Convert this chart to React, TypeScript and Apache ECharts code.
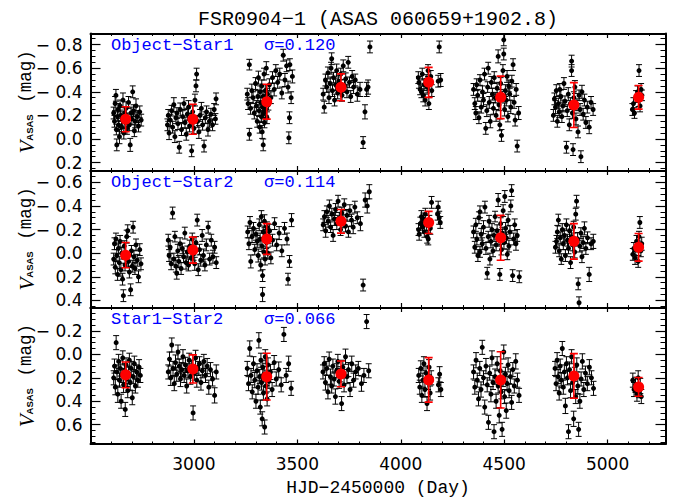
import React, { useEffect, useRef } from 'react';
import * as echarts from 'echarts';

const chartTitle = 'FSR0904−1 (ASAS 060659+1902.8)';
const xTitle = 'HJD−2450000 (Day)';
const panelNames = ['Object−Star1', 'Object−Star2', 'Star1−Star2'];
const panelSigmas = ['σ=0.120', 'σ=0.114', 'σ=0.066'];

const xMajor = [3000, 3500, 4000, 4500, 5000];
const xMinor = [2600, 2700, 2800, 2900, 3100, 3200, 3300, 3400, 3600, 3700, 3800, 3900, 4100, 4200, 4300, 4400, 4600, 4700, 4800, 4900, 5100, 5200];

const yRanges = [[-0.894, 0.267], [-0.70, 0.46], [-0.40, 0.765]];
const yMajor = [
  [-0.8, -0.6, -0.4, -0.2, 0, 0.2],
  [-0.6, -0.4, -0.2, 0, 0.2, 0.4],
  [-0.2, 0, 0.2, 0.4, 0.6],
];
const yMinor = [
  [-0.85, -0.75, -0.7, -0.65, -0.55, -0.5, -0.45, -0.35, -0.3, -0.25, -0.15, -0.1, -0.05, 0.05, 0.1, 0.15, 0.25],
  [-0.65, -0.55, -0.5, -0.45, -0.35, -0.3, -0.25, -0.15, -0.1, -0.05, 0.05, 0.1, 0.15, 0.25, 0.3, 0.35, 0.45],
  [-0.35, -0.3, -0.25, -0.15, -0.1, -0.05, 0.05, 0.1, 0.15, 0.25, 0.3, 0.35, 0.45, 0.5, 0.55, 0.65, 0.7, 0.75],
];

// [HJD-2450000, mag, error]
const p1Points = [
  [2612,-0.22,.05],[2616,-0.15,.05],[2619,-0.30,.06],[2623,-0.37,.05],[2625,-0.08,.045],[2627,0.05,.05],[2630,-0.19,.04],[2633,-0.25,.05],[2636,-0.12,.055],[2640,-0.02,.06],[2643,-0.28,.05],[2646,-0.20,.045],[2650,-0.10,.05],[2654,-0.16,.05],[2657,-0.33,.06],[2661,-0.05,.05],[2665,-0.22,.045],[2668,-0.14,.05],[2672,-0.26,.055],[2676,-0.09,.05],[2680,-0.18,.04],[2684,-0.31,.05],[2688,-0.12,.05],[2692,0.05,.055],[2696,-0.22,.05],[2700,-0.17,.045],[2704,-0.40,.05],[2708,-0.24,.05],[2712,-0.07,.05],[2716,-0.15,.055],[2720,-0.28,.06],[2726,-0.19,.05],[2732,-0.11,.05],[2738,-0.23,.05],[2745,-0.16,.05],
  [2872,-0.12,.05],[2876,-0.20,.05],[2880,-0.05,.055],[2886,-0.16,.05],[2892,-0.24,.045],[2897,-0.10,.05],[2903,-0.29,.06],[2908,-0.02,.05],[2913,-0.18,.05],[2918,-0.22,.045],[2923,-0.13,.05],[2929,0.07,.05],[2934,-0.25,.055],[2940,-0.08,.05],[2946,-0.19,.05],[2952,-0.30,.05],[2957,-0.14,.045],[2963,-0.04,.05],[2968,-0.21,.05],[2974,-0.27,.055],[2979,-0.11,.05],[2985,-0.17,.05],[2989,0.10,.05],[2994,-0.23,.05],[3000,-0.09,.045],[3005,-0.33,.05],[3010,-0.45,.05],[3013,-0.55,.05],[3018,-0.15,.05],[3024,-0.06,.055],[3030,-0.20,.05],[3036,-0.26,.05],[3042,-0.12,.045],[3049,0.06,.05],[3055,-0.18,.05],[3061,-0.23,.05],[3068,-0.08,.055],[3075,-0.15,.05],[3082,-0.21,.05],[3090,-0.12,.05],[3098,-0.25,.05],[3104,-0.17,.045],[3107,-0.34,.05],
  [3258,-0.38,.05],[3262,-0.30,.05],[3268,-0.63,.045],[3268,-0.04,.05],[3274,-0.26,.05],[3280,-0.41,.055],[3286,-0.35,.05],[3292,-0.22,.05],[3298,-0.47,.05],[3302,-0.28,.045],[3306,-0.15,.05],[3309,-0.36,.05],[3312,-0.52,.055],[3315,-0.24,.05],[3318,-0.10,.05],[3320,-0.40,.05],[3323,-0.31,.045],[3326,-0.19,.05],[3328,-0.45,.05],[3330,-0.06,.055],[3332,-0.27,.05],[3334,-0.36,.05],[3335,0.05,.05],[3337,-0.22,.05],[3339,-0.55,.05],[3341,-0.14,.045],[3343,-0.33,.05],[3345,-0.41,.05],[3347,-0.25,.05],[3350,-0.60,.055],[3353,-0.18,.05],[3356,-0.38,.05],[3360,-0.29,.045],[3365,-0.46,.05],[3372,-0.35,.05],[3380,-0.52,.05],[3388,-0.42,.055],[3396,-0.58,.05],[3405,-0.48,.05],[3415,-0.55,.05],[3425,-0.39,.05],[3432,-0.71,.05],[3440,-0.50,.055],[3448,-0.62,.05],[3455,-0.44,.05],[3459,-0.01,.05],[3462,-0.18,.05],[3464,-0.63,.05],[3470,-0.35,.05],[3476,-0.53,.055],
  [3625,-0.38,.05],[3630,-0.27,.05],[3636,-0.50,.05],[3642,-0.44,.045],[3648,-0.56,.05],[3653,-0.35,.05],[3659,-0.47,.055],[3663,-0.60,.05],[3666,-0.68,.05],[3670,-0.41,.05],[3675,-0.52,.045],[3680,-0.33,.05],[3685,-0.46,.05],[3690,-0.58,.055],[3695,-0.39,.05],[3700,-0.49,.05],[3705,-0.43,.045],[3710,-0.55,.05],[3716,-0.37,.05],[3722,-0.62,.05],[3728,-0.45,.055],[3734,-0.51,.05],[3740,-0.40,.05],[3746,-0.65,.05],[3752,-0.48,.045],[3758,-0.36,.05],[3765,-0.53,.05],[3772,-0.44,.055],[3780,-0.50,.05],[3790,-0.38,.06],[3803,-0.42,.06],[3818,0.03,.05],[3827,-0.23,.06],[3835,-0.42,.06],[3842,-0.44,.06],[3851,-0.78,.05],
  [4085,-0.52,.05],[4088,-0.48,.05],[4094,-0.42,.045],[4100,-0.40,.05],[4104,-0.55,.05],[4109,-0.37,.055],[4113,-0.46,.05],[4118,-0.33,.05],[4123,-0.50,.045],[4128,-0.44,.05],[4132,-0.58,.05],[4136,-0.30,.05],[4140,-0.47,.055],[4145,-0.53,.05],[4150,-0.41,.05],[4181,-0.49,.05],[4186,-0.78,.05],[4193,-0.50,.055],
  [4352,-0.42,.05],[4358,-0.30,.05],[4363,-0.22,.055],[4367,-0.46,.05],[4372,-0.37,.05],[4378,-0.18,.05],[4383,-0.50,.045],[4389,-0.27,.05],[4395,-0.40,.05],[4400,-0.33,.055],[4405,-0.55,.05],[4411,-0.09,.05],[4416,-0.24,.05],[4420,-0.44,.045],[4423,-0.60,.05],[4428,-0.31,.05],[4433,-0.15,.055],[4438,-0.48,.05],[4443,-0.38,.05],[4448,-0.26,.05],[4452,-0.52,.05],[4457,-0.35,.045],[4461,-0.20,.05],[4466,-0.43,.05],[4471,-0.70,.055],[4475,-0.29,.05],[4479,-0.12,.05],[4483,-0.47,.05],[4487,-0.03,.05],[4491,-0.36,.045],[4494,-0.58,.05],[4498,-0.84,.05],[4498,-0.72,.05],[4502,-0.25,.055],[4506,-0.41,.05],[4510,-0.33,.05],[4514,-0.53,.05],[4518,-0.19,.045],[4522,-0.45,.05],[4527,-0.38,.05],[4532,-0.27,.055],[4537,-0.49,.05],[4543,-0.63,.05],[4548,-0.31,.05],[4553,-0.16,.05],[4558,-0.42,.05],[4563,0.06,.05],[4570,-0.22,.055],
  [4738,-0.20,.05],[4743,-0.34,.05],[4748,-0.27,.055],[4752,-0.41,.05],[4757,-0.15,.05],[4762,-0.30,.045],[4766,-0.23,.05],[4769,-0.42,.05],[4774,-0.36,.055],[4779,-0.19,.05],[4784,-0.28,.05],[4789,-0.47,.05],[4794,-0.32,.045],[4801,0.07,.05],[4805,-0.24,.05],[4810,-0.38,.055],[4815,-0.12,.05],[4820,-0.30,.05],[4826,-0.66,.05],[4826,-0.58,.05],[4830,-0.22,.045],[4833,0.09,.05],[4837,-0.35,.05],[4842,-0.44,.055],[4847,-0.17,.05],[4852,-0.29,.05],[4857,-0.06,.05],[4862,-0.37,.045],[4867,-0.25,.05],[4871,0.15,.05],[4876,-0.40,.055],[4882,-0.21,.05],[4888,-0.33,.05],[4895,-0.14,.05],[4902,-0.27,.05],[4911,-0.10,.055],[4920,-0.31,.05],[4930,-0.25,.05],
  [5120,-0.25,.05],[5125,-0.30,.05],[5130,-0.22,.045],[5138,-0.36,.05],[5145,-0.40,.05],[5150,-0.33,.055],[5152,-0.58,.05],[5157,-0.28,.05],[5162,-0.42,.05],[5166,-0.37,.045],
];

const p2Points = [
  [2612,0.05,.05],[2616,-0.08,.05],[2620,0.12,.055],[2623,-0.12,.05],[2627,0.02,.05],[2631,0.18,.05],[2635,-0.04,.045],[2639,0.08,.05],[2643,-0.10,.05],[2647,0.14,.055],[2651,0.00,.05],[2655,0.22,.05],[2659,0.36,.05],[2663,-0.06,.045],[2667,0.10,.05],[2671,0.04,.05],[2675,-0.14,.055],[2680,-0.19,.05],[2684,0.07,.05],[2688,0.16,.05],[2694,0.31,.05],[2698,-0.02,.045],[2702,0.11,.05],[2706,-0.22,.05],[2710,0.03,.055],[2715,0.13,.05],[2720,-0.07,.05],[2726,0.06,.05],[2732,0.20,.05],[2738,-0.03,.05],[2744,0.09,.05],
  [2876,-0.11,.05],[2880,0.02,.05],[2885,-0.05,.055],[2890,0.09,.05],[2897,-0.34,.05],[2903,0.05,.05],[2908,-0.14,.045],[2913,0.11,.05],[2917,0.17,.05],[2922,-0.02,.055],[2927,0.07,.05],[2933,-0.08,.05],[2938,0.13,.05],[2944,-0.04,.045],[2950,0.03,.05],[2956,-0.17,.05],[2962,0.08,.055],[2968,-0.01,.05],[2974,0.10,.05],[2980,-0.06,.05],[2986,0.04,.045],[2992,-0.12,.05],[2998,0.01,.05],[3004,0.09,.055],[3010,-0.09,.05],[3016,-0.28,.05],[3021,0.14,.05],[3027,-0.03,.045],[3033,0.06,.05],[3040,-0.15,.05],[3046,0.02,.055],[3053,0.10,.05],[3060,-0.07,.05],[3069,-0.22,.05],[3076,0.05,.05],[3084,-0.11,.05],[3092,0.03,.055],[3100,-0.05,.05],[3108,0.08,.05],
  [3260,-0.18,.05],[3266,-0.08,.05],[3271,-0.26,.05],[3275,0.07,.055],[3281,-0.14,.05],[3288,-0.21,.05],[3294,-0.03,.045],[3300,-0.16,.05],[3306,-0.10,.05],[3311,0.02,.055],[3316,-0.24,.05],[3320,-0.12,.05],[3323,0.10,.05],[3326,-0.31,.05],[3329,-0.06,.045],[3332,0.19,.05],[3332,0.35,.06],[3335,-0.18,.05],[3338,-0.01,.05],[3341,-0.27,.055],[3344,0.05,.05],[3347,-0.15,.05],[3350,-0.09,.05],[3353,-0.22,.045],[3357,0.00,.05],[3361,-0.13,.05],[3366,-0.19,.055],[3372,0.04,.05],[3380,-0.11,.05],[3390,-0.25,.05],[3400,-0.07,.05],[3412,-0.17,.055],[3425,-0.02,.05],[3438,-0.21,.05],[3450,-0.12,.05],[3455,0.22,.05],[3462,0.07,.05],[3472,-0.28,.055],
  [3625,-0.24,.05],[3631,-0.31,.05],[3637,-0.19,.055],[3643,-0.35,.05],[3649,-0.27,.05],[3655,-0.40,.05],[3661,-0.22,.045],[3667,-0.33,.05],[3673,-0.15,.05],[3679,-0.29,.055],[3685,-0.37,.05],[3691,-0.25,.05],[3697,-0.44,.05],[3703,-0.30,.045],[3709,-0.20,.05],[3715,-0.34,.05],[3721,-0.27,.055],[3727,-0.41,.05],[3733,-0.23,.05],[3740,-0.32,.05],[3747,-0.18,.045],[3754,-0.36,.05],[3762,-0.28,.05],[3770,-0.22,.055],[3778,-0.39,.05],[3790,-0.30,.05],[3805,-0.25,.06],[3818,0.27,.05],[3828,-0.45,.06],[3838,-0.40,.06],[3848,-0.52,.06],
  [4086,-0.20,.05],[4089,-0.16,.05],[4095,-0.25,.055],[4100,-0.31,.05],[4105,-0.22,.05],[4109,-0.29,.05],[4114,-0.18,.045],[4119,-0.33,.05],[4124,-0.24,.05],[4128,-0.14,.055],[4133,-0.12,.05],[4138,-0.27,.05],[4143,-0.21,.05],[4149,-0.43,.05],[4178,-0.33,.05],[4181,-0.39,.05],[4186,-0.30,.055],[4191,-0.26,.05],
  [4352,-0.18,.05],[4358,-0.05,.05],[4363,-0.24,.055],[4368,-0.12,.05],[4373,0.02,.05],[4378,-0.30,.05],[4383,-0.35,.05],[4383,-0.01,.045],[4389,-0.16,.05],[4394,-0.08,.05],[4400,-0.22,.055],[4407,-0.39,.05],[4412,-0.04,.05],[4418,0.17,.05],[4423,-0.14,.045],[4427,-0.27,.05],[4431,0.05,.05],[4436,-0.10,.055],[4441,-0.20,.05],[4446,-0.02,.05],[4451,-0.15,.05],[4456,-0.31,.045],[4461,-0.07,.05],[4466,-0.19,.05],[4471,-0.45,.055],[4475,-0.11,.05],[4479,0.18,.05],[4483,-0.25,.05],[4487,-0.03,.045],[4491,-0.17,.05],[4495,-0.36,.05],[4499,-0.09,.055],[4503,-0.48,.05],[4507,-0.21,.05],[4511,-0.13,.05],[4515,0.01,.045],[4519,-0.28,.05],[4523,-0.06,.05],[4528,-0.18,.055],[4532,-0.40,.05],[4536,-0.53,.05],[4541,0.19,.05],[4546,-0.12,.05],[4551,-0.24,.05],[4557,-0.08,.055],[4563,-0.15,.05],[4573,0.20,.05],
  [4748,-0.05,.05],[4753,-0.10,.05],[4757,-0.18,.055],[4762,-0.28,.05],[4766,-0.02,.05],[4771,-0.13,.05],[4776,0.05,.045],[4781,-0.20,.05],[4786,-0.08,.05],[4791,-0.15,.055],[4796,0.02,.05],[4801,-0.24,.05],[4806,-0.11,.05],[4811,-0.04,.045],[4816,-0.19,.05],[4821,0.08,.05],[4826,-0.14,.055],[4831,-0.07,.05],[4836,-0.22,.05],[4841,-0.01,.05],[4846,-0.33,.05],[4850,-0.44,.05],[4855,-0.12,.055],[4858,0.26,.05],[4862,0.42,.05],[4866,-0.06,.05],[4871,-0.17,.045],[4876,0.03,.05],[4882,-0.09,.05],[4888,-0.21,.055],[4895,-0.04,.05],[4903,-0.13,.05],[4911,0.18,.06],[4920,-0.08,.05],[4931,-0.10,.06],
  [5122,0.01,.05],[5127,-0.04,.05],[5133,0.04,.055],[5140,-0.10,.05],[5146,-0.06,.05],[5148,0.07,.05],[5152,-0.14,.045],[5156,-0.26,.05],[5161,-0.02,.05],[5165,-0.08,.055],
];

const p3Points = [
  [2612,0.20,.06],[2616,0.10,.06],[2620,0.28,.065],[2624,-0.10,.06],[2628,0.15,.06],[2632,0.34,.07],[2636,0.06,.06],[2640,0.22,.06],[2644,0.12,.065],[2648,0.40,.06],[2652,0.18,.06],[2656,0.03,.06],[2660,0.26,.065],[2664,0.14,.06],[2668,0.47,.06],[2672,0.09,.06],[2676,0.21,.065],[2680,0.31,.06],[2684,0.16,.06],[2688,0.05,.06],[2692,0.24,.065],[2697,0.12,.06],[2702,0.37,.06],[2707,0.19,.06],[2712,0.08,.065],[2717,0.27,.06],[2723,0.15,.06],[2729,0.22,.06],[2735,0.11,.065],[2741,0.18,.06],
  [2876,0.15,.06],[2882,0.04,.06],[2888,0.20,.065],[2893,-0.08,.06],[2899,0.12,.06],[2905,0.25,.06],[2911,0.07,.065],[2917,0.17,.06],[2923,-0.02,.06],[2929,0.10,.06],[2935,0.21,.065],[2941,0.13,.06],[2947,0.02,.06],[2953,0.18,.06],[2959,0.09,.065],[2965,0.27,.06],[2971,0.14,.06],[2977,0.05,.06],[2983,0.19,.065],[2989,0.11,.06],[2996,0.50,.06],[3002,0.16,.06],[3008,0.03,.065],[3014,0.22,.06],[3020,0.12,.06],[3027,0.08,.06],[3034,0.24,.065],[3041,0.14,.06],[3048,0.06,.06],[3056,0.18,.06],[3064,0.10,.065],[3072,0.28,.06],[3080,0.13,.06],[3090,0.21,.06],[3100,0.35,.065],[3108,0.15,.06],
  [3258,0.12,.06],[3264,0.25,.06],[3270,-0.05,.065],[3276,0.18,.06],[3282,0.32,.06],[3288,0.08,.06],[3294,0.22,.065],[3300,0.40,.06],[3305,0.14,.06],[3310,0.28,.06],[3314,-0.12,.065],[3318,0.19,.06],[3321,0.45,.06],[3324,0.05,.06],[3327,0.24,.065],[3330,0.55,.06],[3333,0.11,.06],[3336,0.33,.06],[3339,0.17,.065],[3342,0.62,.06],[3345,0.02,.06],[3348,0.27,.06],[3351,0.20,.065],[3354,0.38,.06],[3358,0.09,.06],[3363,0.23,.06],[3370,0.15,.065],[3378,0.30,.06],[3388,0.07,.06],[3398,0.21,.06],[3410,0.13,.065],[3422,0.26,.06],[3435,-0.17,.06],[3446,0.18,.06],[3458,0.08,.065],[3470,0.29,.06],
  [3624,0.15,.06],[3630,0.08,.06],[3636,0.24,.065],[3642,0.12,.06],[3648,0.32,.06],[3654,0.04,.06],[3660,0.19,.065],[3666,0.27,.06],[3672,0.10,.06],[3678,0.21,.06],[3684,0.36,.065],[3690,0.14,.06],[3696,0.06,.06],[3702,0.23,.06],[3708,0.17,.065],[3714,0.42,.06],[3720,0.11,.06],[3726,0.26,.06],[3733,0.02,.065],[3740,0.19,.06],[3747,0.13,.06],[3755,0.30,.06],[3763,0.08,.065],[3772,0.22,.06],[3782,0.15,.06],[3795,0.12,.06],[3810,0.25,.065],[3822,0.18,.06],[3835,-0.28,.06],[3845,0.14,.06],
  [4087,0.18,.06],[4092,0.28,.06],[4097,0.12,.065],[4102,0.35,.06],[4107,0.22,.06],[4112,0.08,.06],[4117,0.30,.065],[4122,0.16,.06],[4127,0.42,.06],[4132,0.24,.06],[4137,0.11,.065],[4142,0.33,.06],[4147,0.20,.06],[4182,0.26,.06],[4188,0.17,.065],[4194,0.30,.06],
  [4352,0.15,.06],[4358,0.28,.06],[4364,0.05,.065],[4370,0.22,.06],[4376,0.38,.06],[4382,0.12,.06],[4388,0.30,.065],[4394,-0.06,.06],[4400,0.20,.06],[4406,0.45,.06],[4412,0.10,.065],[4418,0.26,.06],[4424,0.58,.06],[4430,0.16,.06],[4436,0.34,.065],[4441,0.03,.06],[4446,0.24,.06],[4451,0.66,.06],[4456,0.19,.065],[4461,0.40,.06],[4466,0.08,.06],[4471,0.27,.06],[4476,0.52,.065],[4481,0.14,.06],[4486,0.32,.06],[4490,0.64,.06],[4494,0.21,.065],[4498,-0.02,.06],[4502,0.36,.06],[4506,0.17,.06],[4510,0.48,.065],[4514,0.25,.06],[4519,0.09,.06],[4524,0.31,.06],[4530,0.19,.065],[4536,0.41,.06],[4542,0.13,.06],[4549,0.27,.06],[4556,0.06,.065],[4564,0.22,.06],[4572,0.35,.06],
  [4746,0.12,.06],[4751,0.25,.06],[4756,0.05,.065],[4761,0.19,.06],[4766,0.33,.06],[4771,0.10,.06],[4776,0.22,.065],[4781,-0.05,.06],[4786,0.28,.06],[4791,0.15,.06],[4796,0.44,.065],[4801,0.08,.06],[4806,0.20,.06],[4811,0.66,.06],[4816,0.13,.065],[4821,0.31,.06],[4826,0.02,.06],[4831,0.24,.06],[4836,0.55,.065],[4841,0.17,.06],[4846,0.36,.06],[4851,0.09,.06],[4856,0.27,.065],[4860,0.64,.06],[4866,0.40,.06],[4872,0.21,.06],[4878,0.06,.065],[4885,0.30,.06],[4893,0.16,.06],[4902,0.25,.06],[4912,0.11,.065],[4922,0.20,.06],[4932,0.29,.06],
  [5122,0.22,.06],[5128,0.30,.06],[5135,0.26,.065],[5142,0.34,.06],[5148,0.20,.06],[5153,0.31,.06],[5158,0.27,.065],[5163,0.36,.06],
];

// seasonal means [HJD-2450000, mag, std]
const p1Means = [[2670,-0.167,0.106],[2995,-0.167,0.127],[3352,-0.316,0.148],[3711,-0.438,0.114],[4135,-0.48,0.127],[4483,-0.353,0.18],[4837,-0.288,0.19],[5150,-0.353,0.10]];
const p2Means = [[2670,0.017,0.107],[2995,-0.026,0.11],[3352,-0.12,0.13],[3711,-0.27,0.10],[4135,-0.26,0.094],[4483,-0.13,0.19],[4837,-0.10,0.15],[5150,-0.05,0.117]];
const p3Means = [[2670,0.175,0.11],[2995,0.124,0.12],[3352,0.19,0.2],[3711,0.167,0.11],[4135,0.218,0.19],[4483,0.218,0.24],[4837,0.184,0.19],[5150,0.278,0.08]];

const panelPoints = [p1Points, p2Points, p3Points];
const panelMeans = [p1Means, p2Means, p3Means];

const GRID_LEFT = 90.5;
const GRID_RIGHT = 12.5;
const GRID_TOPS = [33.5, 170.5, 307.5];
const GRID_HEIGHTS = [137, 137, 136.5];
const MONO = 'Liberation Mono';
const SANS = 'DejaVu Sans';

function fmtY(val: any) {
  const v = Number(val);
  if (Math.abs(v) < 1e-9) return '0.0';
  if (v < 0) return '\u2212 ' + Math.abs(v).toFixed(1);
  return v.toFixed(1);
}

function errRender(color: string, hw: number, lw: number) {
  return (params: any, api: any) => {
    const x = api.value(0);
    const y = api.value(1);
    const e = api.value(2);
    const a = api.coord([x, y - e]);
    const b = api.coord([x, y + e]);
    const style = { stroke: color, lineWidth: lw };
    return {
      type: 'group',
      children: [
        { type: 'line', shape: { x1: a[0], y1: a[1], x2: b[0], y2: b[1] }, style },
        { type: 'line', shape: { x1: a[0] - hw, y1: a[1], x2: a[0] + hw, y2: a[1] }, style },
        { type: 'line', shape: { x1: b[0] - hw, y1: b[1], x2: b[0] + hw, y2: b[1] }, style },
      ],
    };
  };
}

function buildOption() {
  const grid: any[] = [];
  const xAxis: any[] = [];
  const yAxis: any[] = [];
  const series: any[] = [];
  const graphic: any[] = [];

  for (let i = 0; i < 3; i++) {
    grid.push({ left: GRID_LEFT, right: GRID_RIGHT, top: GRID_TOPS[i], height: GRID_HEIGHTS[i], containLabel: false });
    const xb = { type: 'value', gridIndex: i, min: 2500, max: 5280, splitLine: { show: false } };
    const line = { show: true, onZero: false, lineStyle: { color: '#000', width: 2 } };
    const noLine = { show: false, onZero: false };
    xAxis.push({ ...xb, position: 'bottom', axisLine: line,
      axisTick: { show: true, inside: true, length: 4.5, customValues: xMajor, lineStyle: { color: '#000', width: 1.2 } },
      axisLabel: { show: i === 2, customValues: xMajor, margin: 11, color: '#000', fontFamily: SANS, fontSize: 17, formatter: (v: any) => String(Math.round(Number(v))) } });
    xAxis.push({ ...xb, position: 'bottom', axisLine: noLine,
      axisTick: { show: true, inside: true, length: 2.5, customValues: xMinor, lineStyle: { color: '#000', width: 1 } },
      axisLabel: { show: false } });
    xAxis.push({ ...xb, position: 'top', axisLine: line,
      axisTick: { show: true, inside: true, length: 4.5, customValues: xMajor, lineStyle: { color: '#000', width: 1.2 } },
      axisLabel: { show: false } });
    xAxis.push({ ...xb, position: 'top', axisLine: noLine,
      axisTick: { show: true, inside: true, length: 2.5, customValues: xMinor, lineStyle: { color: '#000', width: 1 } },
      axisLabel: { show: false } });

    const yb = { type: 'value', gridIndex: i, inverse: true, min: yRanges[i][0], max: yRanges[i][1], splitLine: { show: false } };
    yAxis.push({ ...yb, position: 'left', axisLine: line,
      axisTick: { show: true, inside: true, length: 10, customValues: yMajor[i], lineStyle: { color: '#000', width: 1.2 } },
      axisLabel: { show: true, customValues: yMajor[i], margin: 8, color: '#000', fontFamily: SANS, fontSize: 17, formatter: fmtY } });
    yAxis.push({ ...yb, position: 'left', axisLine: noLine,
      axisTick: { show: true, inside: true, length: 5, customValues: yMinor[i], lineStyle: { color: '#000', width: 1 } },
      axisLabel: { show: false } });
    yAxis.push({ ...yb, position: 'right', axisLine: line,
      axisTick: { show: true, inside: true, length: 10, customValues: yMajor[i], lineStyle: { color: '#000', width: 1.2 } },
      axisLabel: { show: false } });
    yAxis.push({ ...yb, position: 'right', axisLine: noLine,
      axisTick: { show: true, inside: true, length: 5, customValues: yMinor[i], lineStyle: { color: '#000', width: 1 } },
      axisLabel: { show: false } });

    const ax = { xAxisIndex: 4 * i, yAxisIndex: 4 * i };
    series.push({ type: 'custom', ...ax, data: panelPoints[i], encode: { x: 0, y: 1 }, renderItem: errRender('#000', 3, 1), clip: true, silent: true, z: 2 });
    series.push({ type: 'scatter', ...ax, data: panelPoints[i].map((p) => [p[0], p[1]]), symbol: 'circle', symbolSize: 5, itemStyle: { color: '#000', opacity: 1 }, silent: true, z: 3 });
    series.push({ type: 'custom', ...ax, data: panelMeans[i], encode: { x: 0, y: 1 }, renderItem: errRender('#ff0000', 4, 1.6), clip: true, silent: true, z: 4 });
    series.push({ type: 'scatter', ...ax, data: panelMeans[i].map((p) => [p[0], p[1]]), symbol: 'circle', symbolSize: 11, itemStyle: { color: '#ff0000', opacity: 1 }, silent: true, z: 5 });

    const top = GRID_TOPS[i];
    graphic.push({ type: 'text', left: 111, top: top + 3, z: 10,
      style: { text: panelNames[i], fill: '#0000ff', font: `17px "${MONO}"` } });
    graphic.push({ type: 'text', left: 264, top: top + 3, z: 10,
      style: { text: panelSigmas[i], fill: '#0000ff', font: `17px "${MONO}"` } });

    const cy = top + GRID_HEIGHTS[i] / 2 + 1.5;
    graphic.push({
      type: 'group', x: 0, y: cy, rotation: Math.PI / 2, z: 10,
      children: [
        { type: 'text', x: -43.5, y: 26.5, style: { text: 'V', fill: '#000', font: `italic 21px "Liberation Serif"`, align: 'center', verticalAlign: 'middle' } },
        { type: 'text', x: -24, y: 29.5, style: { text: 'ASAS', fill: '#000', font: `bold 9.5px "Liberation Sans"`, align: 'center', verticalAlign: 'middle' } },
        { type: 'text', x: 27, y: 25.5, style: { text: '(mag)', fill: '#000', font: `17.5px "${MONO}"`, align: 'center', verticalAlign: 'middle' } },
      ],
    });
  }

  graphic.push({ type: 'text', x: 378, y: 19, z: 10,
    style: { text: chartTitle, fill: '#000', font: `20px "${MONO}"`, align: 'center', verticalAlign: 'middle' } });
  graphic.push({ type: 'text', x: 378, y: 488, z: 10,
    style: { text: xTitle, fill: '#000', font: `18px "${MONO}"`, align: 'center', verticalAlign: 'middle' } });

  return { animation: false, backgroundColor: '#fff', grid, xAxis, yAxis, series, graphic };
}

export default function App() {
  const ref = useRef<HTMLDivElement>(null);
  useEffect(() => {
    if (!ref.current) return;
    const chart = echarts.init(ref.current, null, { renderer: 'svg' });
    chart.setOption(buildOption() as any);
    return () => chart.dispose();
  }, []);
  return <div ref={ref} style={{ position: 'absolute', left: 0, top: 0, width: 678, height: 500 }} />;
}
